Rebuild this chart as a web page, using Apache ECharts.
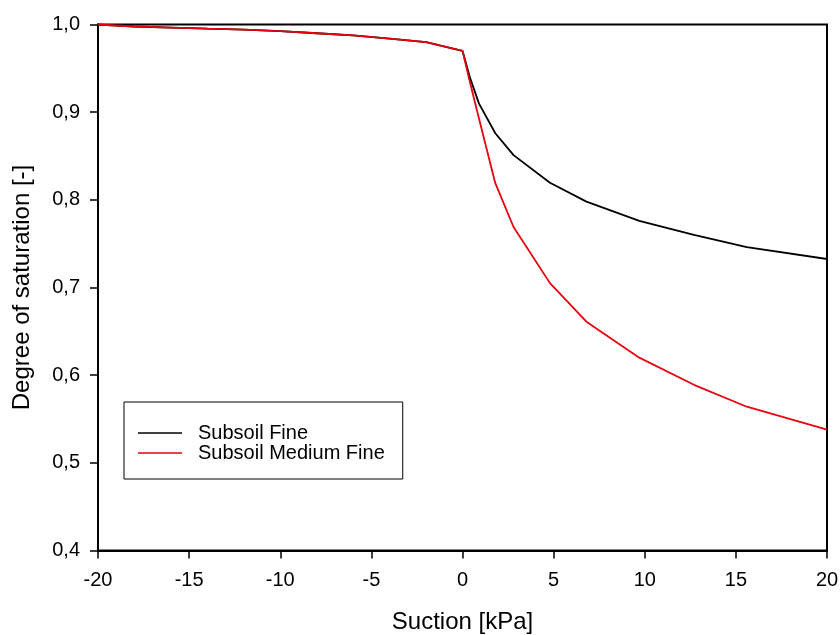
<!DOCTYPE html>
<html>
<head>
<meta charset="utf-8">
<script src="https://cdn.jsdelivr.net/npm/echarts@6/dist/echarts.min.js"></script>
<style>
  html, body { margin: 0; padding: 0; background: #fff; }
  #chart { width: 840px; height: 635px; }
</style>
</head>
<body>
<div id="chart"></div>
<script>
// Suction values [kPa] (shared by both curves)
const suction = [-20, -18, -16, -14, -12, -10, -8, -6, -4, -2, 0,
                 0.4, 0.9, 1.8, 2.8, 4.8, 6.8, 9.7, 12.7, 15.6, 20];

// Degree of saturation [-]
const subsoilFine = [1.0, 0.9977, 0.9965, 0.9952, 0.9942, 0.9925, 0.990, 0.9875, 0.984, 0.980, 0.970,
                     0.940, 0.910, 0.876, 0.851, 0.8195, 0.798, 0.776, 0.760, 0.746, 0.7325];
const subsoilMediumFine = [1.0, 0.9977, 0.9965, 0.9952, 0.9942, 0.9925, 0.990, 0.9875, 0.984, 0.980, 0.970,
                           0.935, 0.893, 0.819, 0.769, 0.705, 0.661, 0.620, 0.589, 0.564, 0.538];

const seriesNames = ['Subsoil Fine', 'Subsoil Medium Fine'];
const xTitle = 'Suction [kPa]';
const yTitle = 'Degree of saturation [-]';

const pairs = (xs, ys) => xs.map((x, i) => [x, ys[i]]);
const font = 'Arial, "Liberation Sans", sans-serif';

const chart = echarts.init(document.getElementById('chart'), null, { renderer: 'canvas' });
chart.setOption({
  animation: false,
  backgroundColor: '#ffffff',
  grid: {
    left: 98, right: 13, top: 24.5, bottom: 84.5,
    outerBoundsMode: 'none',
    show: true, borderColor: '#000', borderWidth: 2, backgroundColor: 'transparent'
  },
  legend: {
    show: true,
    orient: 'vertical',
    left: 124, top: 402,
    padding: [21, 18, 16, 14],
    borderColor: '#000', borderWidth: 1,
    itemWidth: 44, itemHeight: 1.6, itemGap: 0,
    icon: 'rect',
    textStyle: { fontFamily: font, fontSize: 20, color: '#000', lineHeight: 18, padding: [0, 0, 0, 11] },
    data: seriesNames
  },
  xAxis: {
    type: 'value', min: -20, max: 20, interval: 5,
    name: xTitle, nameLocation: 'middle', nameGap: 60,
    nameTextStyle: { fontFamily: font, fontSize: 24, color: '#000' },
    axisLine: { show: true, onZero: false, lineStyle: { color: '#000', width: 2 } },
    axisTick: { show: true, inside: false, length: 8, lineStyle: { color: '#000', width: 1.5 } },
    axisLabel: { fontFamily: font, fontSize: 20, color: '#000', margin: 20 },
    splitLine: { show: false }
  },
  yAxis: {
    type: 'value', min: 0.4, max: 1.0, interval: 0.1,
    name: yTitle, nameLocation: 'middle', nameGap: 64, nameRotate: 90,
    nameTextStyle: { fontFamily: font, fontSize: 24, color: '#000' },
    axisLine: { show: true, onZero: false, lineStyle: { color: '#000', width: 2 } },
    axisTick: { show: true, inside: false, length: 8, lineStyle: { color: '#000', width: 1.5 } },
    axisLabel: {
      fontFamily: font, fontSize: 20, color: '#000', margin: 18,
      formatter: v => v.toFixed(1).replace('.', ',')
    },
    splitLine: { show: false }
  },
  series: [
    {
      name: seriesNames[0], type: 'line', data: pairs(suction, subsoilFine),
      symbol: 'none', smooth: false, z: 2,
      lineStyle: { color: '#000', width: 1.8 }, itemStyle: { color: '#000' }
    },
    {
      name: seriesNames[1], type: 'line', data: pairs(suction, subsoilMediumFine),
      symbol: 'none', smooth: false, z: 3,
      lineStyle: { color: '#e8000e', width: 1.8 }, itemStyle: { color: '#e8000e' }
    }
  ]
});
</script>
</body>
</html>
